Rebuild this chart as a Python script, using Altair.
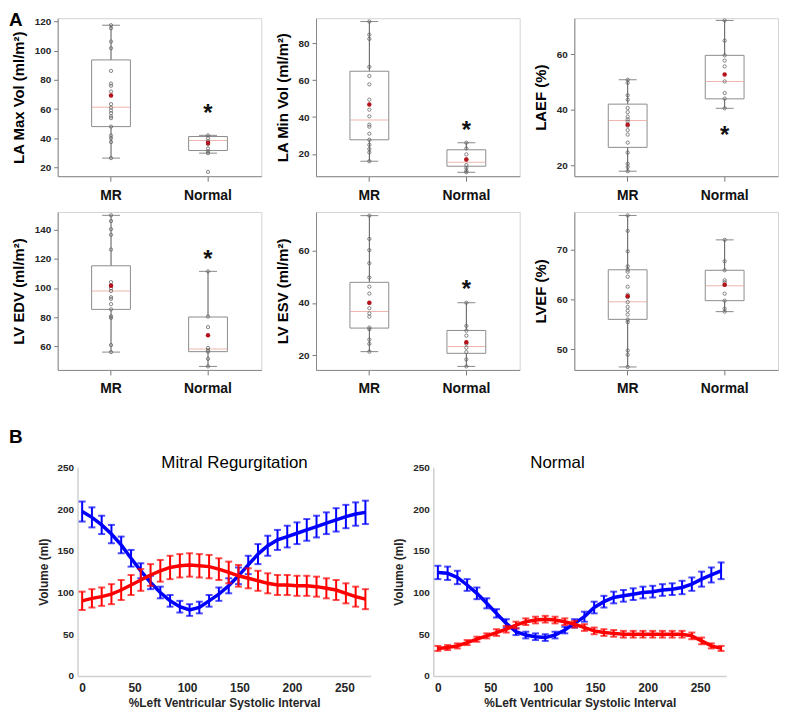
import altair as alt
import pandas as pd

FONT = "Liberation Sans, Arial, Helvetica, sans-serif"
GROUPS = ["MR", "Normal"]

# stats order: whisker low, q1, median, q3, whisker high, mean
LA_MAX_MR_STATS = [26.4, 48.0, 61.3, 93.7, 117.5, 69.3]
LA_MAX_NORMAL_STATS = [29.8, 31.6, 38.5, 41.2, 42.0, 36.7]
LA_MAX_MR_PTS = [117.5, 115.4, 106.3, 101.7, 86.2, 77.5, 76.0, 72.0, 63.4, 61.0, 59.0, 57.2, 55.0, 53.8, 48.0, 41.9, 40.0, 37.4, 26.4]
LA_MAX_NORMAL_PTS = [42.0, 40.0, 38.0, 36.0, 33.0, 31.0, 29.8, 17.0]
LA_MAX_STAR = 60.6

LA_MIN_MR_STATS = [16.1, 27.7, 38.4, 64.8, 91.7, 46.8]
LA_MIN_NORMAL_STATS = [10.1, 13.4, 15.5, 22.3, 26.1, 17.0]
LA_MIN_MR_PTS = [91.7, 84.6, 82.3, 67.2, 62.2, 57.7, 49.4, 44.0, 40.4, 35.9, 34.8, 31.0, 27.7, 25.0, 22.7, 20.9, 16.1]
LA_MIN_NORMAL_PTS = [26.1, 23.0, 19.8, 17.0, 14.0, 12.5, 10.9, 10.1]
LA_MIN_STAR = 35.4

LAEF_MR_STATS = [17.8, 26.4, 36.1, 42.0, 50.8, 34.6]
LAEF_NORMAL_STATS = [40.5, 43.9, 50.2, 59.6, 72.2, 52.7]
LAEF_MR_PTS = [50.8, 49.7, 45.2, 43.6, 40.6, 39.1, 37.5, 36.5, 35.7, 34.2, 32.6, 31.0, 28.1, 24.5, 20.5, 19.3, 17.8]
LAEF_NORMAL_PTS = [72.2, 64.9, 59.6, 57.7, 55.6, 50.2, 46.0, 44.0, 40.5]
LAEF_STAR = 32.5

LVEDV_MR_STATS = [56.2, 85.4, 98.0, 115.2, 149.7, 101.6]
LVEDV_NORMAL_STATS = [46.4, 56.5, 58.3, 80.2, 111.4, 67.7]
LVEDV_MR_PTS = [149.7, 145.8, 140.2, 136.4, 126.3, 104.0, 102.0, 99.8, 98.0, 93.7, 92.6, 89.0, 85.4, 80.7, 79.6, 61.0, 56.2]
LVEDV_NORMAL_PTS = [111.4, 80.5, 73.3, 59.0, 57.4, 56.5, 51.6, 46.4]
LVEDV_STAR = 123.1

LVESV_MR_STATS = [21.4, 30.4, 36.75, 47.9, 73.4, 40.1]
LVESV_NORMAL_STATS = [15.75, 20.75, 23.4, 29.5, 40.1, 25.0]
LVESV_MR_PTS = [73.4, 64.5, 60.2, 55.2, 49.75, 46.25, 43.6, 40.0, 38.0, 36.0, 34.8, 30.6, 30.0, 26.0, 24.4, 21.4]
LVESV_NORMAL_PTS = [40.1, 31.25, 29.4, 27.5, 24.4, 22.9, 21.25, 18.4, 15.75]
LVESV_STAR = 47.1

LVEF_MR_STATS = [46.5, 56.05, 59.6, 66.0, 76.9, 60.7]
LVEF_NORMAL_STATS = [57.6, 59.8, 62.8, 65.9, 72.0, 63.0]
LVEF_MR_PTS = [76.9, 73.8, 69.7, 66.7, 66.0, 65.6, 64.6, 62.6, 61.0, 60.5, 59.5, 58.55, 57.8, 57.0, 56.0, 55.5, 49.8, 48.95, 46.5]
LVEF_NORMAL_PTS = [72.0, 67.7, 65.9, 63.9, 63.5, 63.0, 61.2, 59.8, 58.2, 57.6]

# Panel B
XPCT = [0, 9.3, 18.6, 27.9, 37.2, 46.6, 55.9, 65.2, 74.5, 83.8, 93.1, 102.4, 111.7, 121.0, 130.3,
        139.7, 149.0, 158.3, 167.6, 176.9, 186.2, 195.5, 204.8, 214.1, 223.4, 232.8, 242.1, 251.4, 260.7, 270.0]
MR_LV = [197, 190, 181, 170, 157, 141, 126, 112, 100, 90, 83, 79, 82, 90, 98,
         108, 120, 133, 146, 156, 163, 167, 171, 175, 179, 183, 187, 191, 194, 196]
MR_LV_ERR = [12, 12, 11, 11, 10, 10, 9, 8, 7, 7, 7, 7, 7, 7, 8,
             9, 10, 11, 12, 12, 12, 13, 13, 13, 13, 13, 14, 14, 14, 14]
MR_LA = [90, 93, 95, 98, 103, 109, 115, 121, 126, 130, 132, 133, 132, 131, 128,
         124, 120, 117, 114, 111, 109, 109, 108, 108, 107, 105, 103, 99, 95, 92]
MR_LA_ERR = [11, 11, 11, 12, 12, 12, 13, 13, 13, 14, 14, 14, 14, 14, 13,
             13, 13, 12, 12, 12, 12, 12, 12, 12, 12, 12, 12, 12, 12, 12]
N_LV = [124, 123, 118, 109, 99, 87, 75, 63, 53, 49, 47, 46, 49, 55, 63,
        71, 82, 89, 94, 96, 98, 100, 101, 103, 104, 106, 110, 116, 121, 126]
N_LV_ERR = [8, 8, 8, 7, 7, 6, 5, 5, 4, 4, 4, 4, 4, 4, 5,
            6, 7, 7, 7, 7, 7, 7, 7, 7, 7, 8, 8, 9, 9, 10]
N_LA = [33, 34, 36, 40, 44, 48, 52, 56, 61, 65, 67, 68, 67, 65, 62,
        58, 54, 52, 51, 50, 50, 50, 50, 50, 50, 50, 48, 42, 36, 33]
N_LA_ERR = [3, 3, 3, 3, 3, 3, 4, 4, 4, 4, 4, 4, 4, 4, 4,
            4, 4, 4, 4, 4, 4, 4, 4, 4, 4, 4, 4, 4, 3, 3]

BOX_W = 205
BOX_H = 159


def label_layer(text, x, y, size, weight="bold", align="left"):
    return alt.Chart(pd.DataFrame({"t": [text]})).mark_text(
        text=text, fontSize=size, fontWeight=weight, align=align, baseline="top",
        font=FONT, color="#000000"
    ).encode(x=alt.value(x), y=alt.value(y))


def box_panel(ytitle, mr_stats, nm_stats, mr_pts, nm_pts, star_y, ydom, yvals, letter=None):
    stats = pd.DataFrame({
        "group": GROUPS,
        "lo": [mr_stats[0], nm_stats[0]],
        "q1": [mr_stats[1], nm_stats[1]],
        "med": [mr_stats[2], nm_stats[2]],
        "q3": [mr_stats[3], nm_stats[3]],
        "hi": [mr_stats[4], nm_stats[4]],
        "mean": [mr_stats[5], nm_stats[5]],
    })
    pts = pd.DataFrame({"group": ["MR"] * len(mr_pts) + ["Normal"] * len(nm_pts),
                        "v": mr_pts + nm_pts})
    xenc = alt.X("group:N",
                 scale=alt.Scale(domain=GROUPS, paddingInner=0.6, paddingOuter=0.35),
                 axis=alt.Axis(title=None, labelAngle=0, labelFontSize=14, labelFontWeight="bold",
                               labelColor="#111111", labelPadding=7, tickSize=5, tickColor="#777777",
                               domainColor="#888888", labelFont=FONT))
    ysc = alt.Scale(domain=ydom, nice=False, zero=False)
    yaxis = alt.Axis(title=ytitle, values=yvals, grid=False, labelFontSize=10, labelFontWeight="bold",
                     labelColor="#262626", labelFont=FONT, tickSize=4, tickColor="#777777",
                     domainColor="#888888", labelPadding=3, titleFontSize=15, titleFontWeight="bold",
                     titleFont=FONT, titleColor="#000000", titlePadding=8)

    def Y(f):
        return alt.Y(f, scale=ysc, axis=yaxis)

    base = alt.Chart(stats)
    whisk = base.mark_rule(color="#555555", strokeWidth=1).encode(x=xenc, y=Y("lo:Q"), y2="hi:Q")
    cap_lo = base.mark_tick(color="#555555", size=18, thickness=1, orient="horizontal").encode(x=xenc, y=Y("lo:Q"))
    cap_hi = base.mark_tick(color="#555555", size=18, thickness=1, orient="horizontal").encode(x=xenc, y=Y("hi:Q"))
    box = base.mark_bar(fill="white", stroke="#8c8c8c", strokeWidth=1).encode(x=xenc, y=Y("q1:Q"), y2="q3:Q")
    med = base.mark_tick(color="#e8968c", size=38, thickness=1, orient="horizontal").encode(x=xenc, y=Y("med:Q"))
    dots = alt.Chart(pts).mark_point(shape="circle", size=11, filled=False, color="#666666",
                                     strokeWidth=0.8, opacity=1).encode(x=xenc, y=Y("v:Q"))
    mean = base.mark_point(shape="circle", filled=True, size=20, color="#b5121b", opacity=1).encode(
        x=xenc, y=Y("mean:Q"))
    layers = [whisk, cap_lo, cap_hi, box, med, dots, mean]
    if star_y is not None:
        star = alt.Chart(pd.DataFrame({"group": ["Normal"], "v": [star_y]})).mark_text(
            text="*", fontSize=24, fontWeight="bold", dy=6, color="#111111", font=FONT
        ).encode(x=xenc, y=Y("v:Q"))
        layers.append(star)
    if letter is not None:
        layers.append(label_layer(letter, -49, -7, 19))
    return alt.layer(*layers).properties(width=BOX_W, height=BOX_H)


def line_panel(title, title_x, lv, lv_err, la, la_err, letter=None):
    xenc = alt.X("x:Q", scale=alt.Scale(domain=[-4.4, 275], nice=False, zero=False),
                 axis=alt.Axis(title="%Left Ventricular Systolic Interval", values=[0, 50, 100, 150, 200, 250],
                               grid=False, ticks=False, labelFontSize=12, labelFontWeight="bold",
                               labelColor="#262626", labelFont=FONT, labelPadding=7, domainColor="#d0d0d0",
                               domainWidth=1.5, titleFontSize=12, titleFontWeight="bold", titleFont=FONT,
                               titleColor="#262626", titlePadding=4))
    ysc = alt.Scale(domain=[0, 250], nice=False)
    yaxis = alt.Axis(title="Volume (ml)", values=[0, 50, 100, 150, 200, 250], grid=False, ticks=False,
                     labelFontSize=10, labelFontWeight="bold", labelColor="#262626", labelFont=FONT,
                     labelPadding=4, domainColor="#d0d0d0", domainWidth=1.5, titleFontSize=12,
                     titleFontWeight="bold", titleFont=FONT, titleColor="#262626", titlePadding=7)

    def Y(f):
        return alt.Y(f, scale=ysc, axis=yaxis)

    layers = []
    for vals, errs, col in [(lv, lv_err, "#0000ff"), (la, la_err, "#ff0000")]:
        df = pd.DataFrame({"x": XPCT, "v": vals, "err": errs})
        df["lo"] = df["v"] - df["err"]
        df["hi"] = df["v"] + df["err"]
        c = alt.Chart(df)
        layers.append(c.mark_line(color=col, strokeWidth=3.5).encode(x=xenc, y=Y("v:Q")))
        layers.append(c.mark_rule(color=col, strokeWidth=2).encode(x=xenc, y=Y("lo:Q"), y2="hi:Q"))
        layers.append(c.mark_tick(color=col, size=7, thickness=2, orient="horizontal").encode(x=xenc, y=Y("lo:Q")))
        layers.append(c.mark_tick(color=col, size=7, thickness=2, orient="horizontal").encode(x=xenc, y=Y("hi:Q")))
    layers.append(label_layer(title, title_x, -12, 17, weight="normal", align="center"))
    if letter is not None:
        layers.append(label_layer(letter, -69, -39, 19))
    return alt.layer(*layers).properties(
        width=295, height=210,
        view=alt.ViewBackground(stroke="transparent"),
    )


p1 = box_panel("LA Max Vol (ml/m²)", LA_MAX_MR_STATS, LA_MAX_NORMAL_STATS, LA_MAX_MR_PTS, LA_MAX_NORMAL_PTS,
               LA_MAX_STAR, [14, 122.3], [20, 40, 60, 80, 100, 120], letter="A")
p2 = box_panel("LA Min Vol (ml/m²)", LA_MIN_MR_STATS, LA_MIN_NORMAL_STATS, LA_MIN_MR_PTS, LA_MIN_NORMAL_PTS,
               LA_MIN_STAR, [8, 93.5], [20, 40, 60, 80])
p3 = box_panel("LAEF (%)", LAEF_MR_STATS, LAEF_NORMAL_STATS, LAEF_MR_PTS, LAEF_NORMAL_PTS,
               LAEF_STAR, [16, 73], [20, 40, 60])
p4 = box_panel("LV EDV (ml/m²)", LVEDV_MR_STATS, LVEDV_NORMAL_STATS, LVEDV_MR_PTS, LVEDV_NORMAL_PTS,
               LVEDV_STAR, [44, 152], [60, 80, 100, 120, 140])
p5 = box_panel("LV ESV (ml/m²)", LVESV_MR_STATS, LVESV_NORMAL_STATS, LVESV_MR_PTS, LVESV_NORMAL_PTS,
               LVESV_STAR, [14.4, 74.8], [20, 40, 60])
p6 = box_panel("LVEF (%)", LVEF_MR_STATS, LVEF_NORMAL_STATS, LVEF_MR_PTS, LVEF_NORMAL_PTS,
               None, [45.9, 77.6], [50, 60, 70])

rowA = alt.concat(p1, p2, p3, p4, p5, p6, columns=3, spacing={"row": 36, "column": 55}, bounds="flush")

lp = line_panel("Mitral Regurgitation", 158, MR_LV, MR_LV_ERR, MR_LA, MR_LA_ERR, letter="B")
rp = line_panel("Normal", 125, N_LV, N_LV_ERR, N_LA, N_LA_ERR)
spacer = alt.Chart(pd.DataFrame({"a": [0]})).mark_point(opacity=0).encode(
    x=alt.value(0), y=alt.value(0)
).properties(width=1, height=1, view=alt.ViewBackground(stroke="transparent"))
innerB = alt.hconcat(lp, rp, spacing=63, bounds="flush")
rowB = alt.hconcat(spacer, innerB, spacing=19, bounds="flush")

chart = alt.vconcat(rowA, rowB, spacing=31).properties(
    padding={"left": 0, "top": 0, "right": 0, "bottom": 0}, background="white"
).configure_view(stroke="#d4d4d4", strokeWidth=1)

chart.save("out.html", embed_options={"renderer": "svg", "actions": False})
